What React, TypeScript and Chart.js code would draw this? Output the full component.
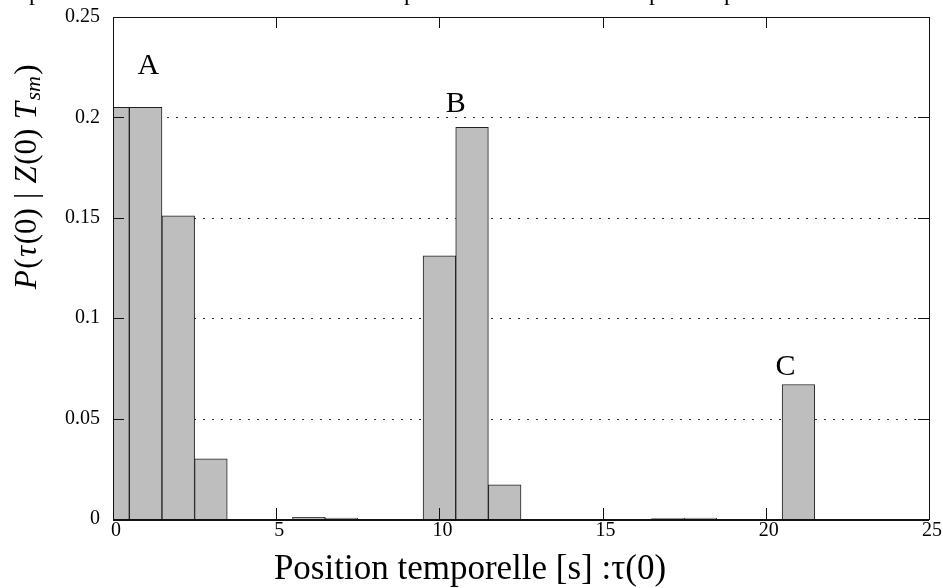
import React, { useEffect, useRef } from "react";
import { Chart, registerables } from "chart.js";

Chart.register(...registerables);

// ---- data ----
const binCenters = [0, 1, 2, 3, 4, 5, 6, 7, 8, 9, 10, 11, 12, 13, 14, 15, 16, 17, 18, 19, 20, 21, 22, 23, 24];
const probabilities = [
  0.205, 0.205, 0.151, 0.03, null, null, 0.0008, 0.0004, null, null,
  0.131, 0.195, 0.017, null, null, null, null, 0.0002, 0.0005, null,
  null, 0.067, null, null, null,
];
const yTicks = [0, 0.05, 0.1, 0.15, 0.2, 0.25];
const yTickLabels = ["0", "0.05", "0.1", "0.15", "0.2", "0.25"];
const yGridValues = [0.05, 0.1, 0.15, 0.2];
const xTicks = [0, 5, 10, 15, 20, 25];
const xTickLabels = ["0", "5", "10", "15", "20", "25"];
const peakLabels = ["A", "B", "C"];
const peakLabelX = [1.08, 10.5, 20.6];
const peakLabelY = [0.2255, 0.2065, 0.0755];
const xTitle = "Position temporelle [s] :\u03c4(0)";
const topFragmentX = [35, 410, 655, 730];

const SERIF = '"Liberation Serif", "Times New Roman", serif';

const decorPlugin = {
  id: "decor",
  beforeDatasetsDraw(chart: any) {
    const { ctx, chartArea } = chart;
    const ys = chart.scales.y;
    ctx.save();
    ctx.strokeStyle = "#333";
    ctx.lineWidth = 1;
    ctx.setLineDash([2, 7]);
    yGridValues.forEach((v) => {
      const py = Math.round(ys.getPixelForValue(v)) + 0.5;
      ctx.beginPath();
      ctx.moveTo(chartArea.left, py);
      ctx.lineTo(chartArea.right, py);
      ctx.stroke();
    });
    ctx.restore();
  },
  afterDatasetsDraw(chart: any) {
    const { ctx, chartArea } = chart;
    const xs = chart.scales.x;
    const ys = chart.scales.y;
    const L = chartArea.left, R = chartArea.right, T = chartArea.top, B = chartArea.bottom;
    ctx.save();
    // border
    ctx.strokeStyle = "#111";
    ctx.lineWidth = 1;
    ctx.setLineDash([]);
    ctx.strokeRect(Math.round(L) + 0.5, Math.round(T) + 0.5, Math.round(R - L), Math.round(B - T));
    ctx.beginPath();
    ctx.moveTo(L, Math.round(B) + 1.5);
    ctx.lineTo(R, Math.round(B) + 1.5);
    ctx.stroke();
    // inward ticks
    const tl = 11;
    ctx.beginPath();
    xTicks.forEach((v) => {
      const px = Math.round(xs.getPixelForValue(v)) + 0.5;
      ctx.moveTo(px, B);
      ctx.lineTo(px, B - tl);
      ctx.moveTo(px, T);
      ctx.lineTo(px, T + tl);
    });
    yTicks.forEach((v) => {
      const py = Math.round(ys.getPixelForValue(v)) + 0.5;
      ctx.moveTo(L, py);
      ctx.lineTo(L + tl, py);
      ctx.moveTo(R, py);
      ctx.lineTo(R - tl, py);
    });
    ctx.stroke();

    // tick labels
    ctx.fillStyle = "#000";
    ctx.font = `20px ${SERIF}`;
    ctx.textAlign = "right";
    ctx.textBaseline = "middle";
    yTicks.forEach((v, i) => {
      ctx.fillText(yTickLabels[i], L - 13, ys.getPixelForValue(v));
    });
    ctx.textAlign = "center";
    ctx.textBaseline = "top";
    xTicks.forEach((v, i) => {
      ctx.fillText(xTickLabels[i], xs.getPixelForValue(v) + 3, B + 2);
    });

    // x title
    ctx.font = `35px ${SERIF}`;
    ctx.textAlign = "center";
    ctx.textBaseline = "alphabetic";
    ctx.fillText(xTitle, 470, 579);

    // peak labels
    ctx.font = `30px ${SERIF}`;
    ctx.textBaseline = "middle";
    peakLabels.forEach((t, i) => {
      ctx.fillText(t, xs.getPixelForValue(peakLabelX[i]), ys.getPixelForValue(peakLabelY[i]));
    });

    // y title (mixed styles), rotated
    const fs = 31;
    const segs: { t: string; f: string; dy?: number }[] = [
      { t: "P", f: `italic ${fs}px ${SERIF}` },
      { t: "(", f: `${fs}px ${SERIF}` },
      { t: "\u03c4", f: `italic ${fs}px ${SERIF}` },
      { t: "(0) ", f: `${fs}px ${SERIF}` },
      { t: "| ", f: `${fs}px ${SERIF}` },
      { t: "Z", f: `italic ${fs}px ${SERIF}` },
      { t: "(0) ", f: `${fs}px ${SERIF}` },
      { t: "T", f: `italic ${fs}px ${SERIF}` },
      { t: "sm", f: `italic ${Math.round(fs * 0.7)}px ${SERIF}`, dy: 6 },
      { t: ")", f: `${fs}px ${SERIF}` },
    ];
    let total = 0;
    const widths = segs.map((s) => {
      ctx.font = s.f;
      const w = ctx.measureText(s.t).width + 1.5;
      total += w;
      return w;
    });
    ctx.translate(28, 176);
    ctx.rotate(-Math.PI / 2);
    ctx.textAlign = "left";
    ctx.textBaseline = "middle";
    let x = -total / 2;
    segs.forEach((s, i) => {
      ctx.font = s.f;
      ctx.fillText(s.t, x, s.dy || 0);
      x += widths[i];
    });
    ctx.restore();

    // clipped caption fragments at the top edge
    ctx.save();
    ctx.fillStyle = "#000";
    ctx.font = `24px ${SERIF}`;
    ctx.textAlign = "center";
    ctx.textBaseline = "alphabetic";
    topFragmentX.forEach((px) => ctx.fillText("p", px, 0));
    ctx.restore();
  },
};

export default function App() {
  const ref = useRef<HTMLCanvasElement | null>(null);
  useEffect(() => {
    if (!ref.current) return;
    const chart = new Chart(ref.current, {
      type: "bar",
      data: {
        datasets: [
          {
            data: binCenters.map((c, i) => ({ x: c, y: probabilities[i] })) as any,
            backgroundColor: "#bebebe",
            borderColor: "#222",
            borderWidth: 1,
            barPercentage: 1,
            categoryPercentage: 1,
            borderSkipped: "bottom",
          },
        ],
      },
      options: {
        responsive: false,
        animation: false,
        devicePixelRatio: 1,
        layout: { padding: { left: 113, right: 14, top: 17, bottom: 69 } },
        plugins: { legend: { display: false }, tooltip: { enabled: false } },
        scales: {
          x: { type: "linear", min: 0, max: 25, display: false, offset: false },
          y: { type: "linear", min: 0, max: 0.25, display: false },
        },
      },
      plugins: [decorPlugin],
    });
    return () => chart.destroy();
  }, []);
  return (
    <canvas
      ref={ref}
      width={943}
      height={588}
      style={{ position: "fixed", left: 0, top: 0, width: 943, height: 588, display: "block", background: "#fff" }}
    />
  );
}
